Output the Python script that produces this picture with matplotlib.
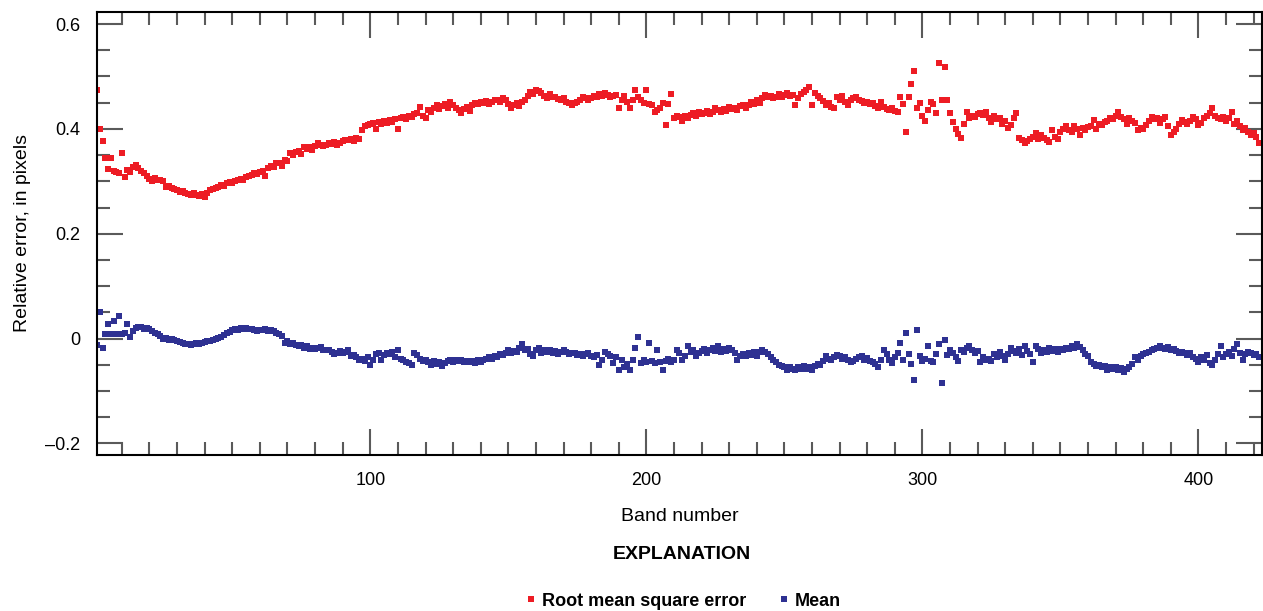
import numpy as np
import matplotlib.pyplot as plt
from matplotlib.ticker import MultipleLocator, FixedLocator
from matplotlib.lines import Line2D

plt.rcParams['font.family'] = ['Liberation Sans', 'DejaVu Sans']

# root mean square error, one value per band (1..422)
rmse = [
    0.474, 0.400, 0.377, 0.345, 0.324, 0.345, 0.320, 0.318, 0.315, 0.354,
    0.309, 0.322, 0.318, 0.328, 0.332, 0.325, 0.320, 0.316, 0.310, 0.305,
    0.300, 0.306, 0.302, 0.303, 0.300, 0.290, 0.292, 0.288, 0.285, 0.283,
    0.280, 0.282, 0.278, 0.276, 0.274, 0.277, 0.274, 0.272, 0.275, 0.270,
    0.278, 0.283, 0.285, 0.288, 0.290, 0.293, 0.292, 0.296, 0.298, 0.297,
    0.300, 0.302, 0.305, 0.303, 0.309, 0.310, 0.312, 0.315, 0.314, 0.318,
    0.320, 0.310, 0.325, 0.330, 0.328, 0.334, 0.335, 0.330, 0.340, 0.338,
    0.354, 0.350, 0.356, 0.358, 0.352, 0.366, 0.362, 0.365, 0.360, 0.368,
    0.373, 0.370, 0.368, 0.370, 0.373, 0.371, 0.375, 0.370, 0.373, 0.376,
    0.378, 0.379, 0.381, 0.377, 0.383, 0.380, 0.398, 0.405, 0.408, 0.410,
    0.411, 0.400, 0.413, 0.410, 0.415, 0.412, 0.417, 0.414, 0.419, 0.400,
    0.420, 0.423, 0.418, 0.425, 0.422, 0.428, 0.430, 0.442, 0.425, 0.420,
    0.436, 0.432, 0.440, 0.446, 0.438, 0.444, 0.448, 0.440, 0.451, 0.445,
    0.440, 0.436, 0.430, 0.438, 0.442, 0.435, 0.446, 0.450, 0.447, 0.452,
    0.449, 0.453, 0.447, 0.451, 0.456, 0.455, 0.452, 0.458, 0.455, 0.448,
    0.440, 0.446, 0.450, 0.444, 0.452, 0.456, 0.462, 0.470, 0.466, 0.474,
    0.472, 0.468, 0.463, 0.459, 0.466, 0.461, 0.461, 0.457, 0.455, 0.459,
    0.452, 0.450, 0.446, 0.449, 0.452, 0.456, 0.461, 0.458, 0.455, 0.459,
    0.463, 0.461, 0.466, 0.463, 0.469, 0.465, 0.460, 0.463, 0.465, 0.440,
    0.455, 0.462, 0.451, 0.440, 0.456, 0.474, 0.460, 0.455, 0.450, 0.474,
    0.448, 0.445, 0.432, 0.436, 0.440, 0.450, 0.408, 0.448, 0.467, 0.420,
    0.425, 0.422, 0.415, 0.424, 0.420, 0.427, 0.430, 0.425, 0.432, 0.428,
    0.430, 0.435, 0.428, 0.433, 0.440, 0.436, 0.432, 0.438, 0.435, 0.441,
    0.437, 0.440, 0.436, 0.443, 0.446, 0.440, 0.445, 0.452, 0.448, 0.455,
    0.450, 0.458, 0.465, 0.460, 0.463, 0.458, 0.461, 0.466, 0.460, 0.464,
    0.469, 0.462, 0.465, 0.446, 0.459, 0.466, 0.470, 0.474, 0.480, 0.446,
    0.468, 0.462, 0.458, 0.453, 0.446, 0.450, 0.442, 0.440, 0.461, 0.455,
    0.463, 0.452, 0.446, 0.455, 0.459, 0.461, 0.456, 0.453, 0.449, 0.451,
    0.447, 0.450, 0.444, 0.440, 0.451, 0.442, 0.438, 0.436, 0.440, 0.435,
    0.432, 0.461, 0.448, 0.394, 0.461, 0.486, 0.510, 0.440, 0.450, 0.425,
    0.415, 0.436, 0.451, 0.448, 0.430, 0.526, 0.455, 0.518, 0.455, 0.430,
    0.413, 0.400, 0.390, 0.383, 0.410, 0.432, 0.420, 0.425, 0.422, 0.428,
    0.430, 0.426, 0.433, 0.420, 0.413, 0.425, 0.418, 0.420, 0.410, 0.415,
    0.402, 0.408, 0.420, 0.430, 0.383, 0.378, 0.373, 0.376, 0.380, 0.385,
    0.392, 0.380, 0.388, 0.383, 0.378, 0.375, 0.398, 0.384, 0.380, 0.395,
    0.400, 0.405, 0.398, 0.394, 0.405, 0.400, 0.389, 0.402, 0.398, 0.403,
    0.405, 0.417, 0.400, 0.410, 0.408, 0.413, 0.415, 0.420, 0.418, 0.425,
    0.432, 0.422, 0.418, 0.410, 0.420, 0.415, 0.412, 0.398, 0.402, 0.400,
    0.408, 0.415, 0.423, 0.418, 0.420, 0.412, 0.418, 0.423, 0.405, 0.389,
    0.395, 0.400, 0.410, 0.417, 0.413, 0.410, 0.415, 0.423, 0.418, 0.408,
    0.412, 0.420, 0.425, 0.430, 0.440, 0.425, 0.420, 0.418, 0.422, 0.415,
    0.420, 0.432, 0.410, 0.415, 0.405, 0.398, 0.402, 0.395, 0.389, 0.392,
    0.385, 0.373,
]

# mean error, one value per band (1..422)
mean = [
    -0.012, 0.051, -0.017, 0.008, 0.027, 0.008, 0.034, 0.008, 0.044, 0.008,
    0.010, 0.027, 0.004, 0.015, 0.020, 0.023, 0.022, 0.018, 0.020, 0.019,
    0.014, 0.010, 0.008, 0.005, 0.000, 0.002, -0.002, 0.000, -0.002, -0.005,
    -0.006, -0.008, -0.010, -0.011, -0.012, -0.011, -0.009, -0.010, -0.008, -0.006,
    -0.004, -0.004, -0.002, -0.001, 0.002, 0.004, 0.007, 0.011, 0.013, 0.016,
    0.019, 0.017, 0.020, 0.018, 0.021, 0.019, 0.018, 0.016, 0.015, 0.017,
    0.016, 0.018, 0.015, 0.017, 0.014, 0.011, 0.008, 0.005, -0.008, -0.005,
    -0.010, -0.008, -0.012, -0.014, -0.013, -0.017, -0.015, -0.019, -0.017, -0.020,
    -0.018, -0.016, -0.021, -0.022, -0.021, -0.025, -0.030, -0.027, -0.024, -0.028,
    -0.025, -0.021, -0.034, -0.032, -0.036, -0.040, -0.038, -0.042, -0.036, -0.050,
    -0.040, -0.030, -0.028, -0.040, -0.032, -0.027, -0.030, -0.025, -0.035, -0.021,
    -0.038, -0.040, -0.044, -0.046, -0.050, -0.027, -0.032, -0.038, -0.042, -0.040,
    -0.044, -0.050, -0.042, -0.048, -0.045, -0.053, -0.046, -0.042, -0.040, -0.044,
    -0.040, -0.043, -0.040, -0.044, -0.042, -0.045, -0.043, -0.046, -0.041, -0.044,
    -0.040, -0.038, -0.036, -0.039, -0.033, -0.035, -0.030, -0.032, -0.027, -0.021,
    -0.028, -0.024, -0.026, -0.018, -0.011, -0.022, -0.020, -0.030, -0.034, -0.022,
    -0.018, -0.027, -0.022, -0.025, -0.021, -0.028, -0.024, -0.030, -0.026, -0.022,
    -0.025, -0.030, -0.028, -0.027, -0.032, -0.029, -0.034, -0.030, -0.027, -0.033,
    -0.036, -0.031, -0.050, -0.040, -0.025, -0.030, -0.034, -0.046, -0.036, -0.059,
    -0.040, -0.055, -0.048, -0.059, -0.040, -0.017, 0.004, -0.046, -0.040, -0.044,
    -0.008, -0.042, -0.046, -0.021, -0.044, -0.059, -0.042, -0.038, -0.044, -0.040,
    -0.021, -0.028, -0.040, -0.034, -0.015, -0.025, -0.022, -0.034, -0.028, -0.024,
    -0.020, -0.027, -0.022, -0.018, -0.024, -0.015, -0.026, -0.020, -0.024, -0.018,
    -0.022, -0.028, -0.040, -0.033, -0.030, -0.034, -0.028, -0.032, -0.026, -0.034,
    -0.025, -0.021, -0.026, -0.030, -0.036, -0.040, -0.044, -0.050, -0.052, -0.055,
    -0.059, -0.055, -0.058, -0.060, -0.055, -0.058, -0.053, -0.057, -0.054, -0.059,
    -0.052, -0.048, -0.050, -0.042, -0.034, -0.038, -0.040, -0.036, -0.032, -0.034,
    -0.038, -0.035, -0.040, -0.044, -0.042, -0.038, -0.036, -0.034, -0.040, -0.037,
    -0.042, -0.044, -0.048, -0.055, -0.040, -0.021, -0.030, -0.040, -0.046, -0.036,
    -0.028, -0.008, -0.040, 0.011, -0.030, -0.048, -0.078, 0.017, -0.034, -0.042,
    -0.038, -0.015, -0.042, -0.045, -0.030, -0.010, -0.084, -0.002, -0.032, -0.022,
    -0.027, -0.036, -0.042, -0.021, -0.025, -0.018, -0.015, -0.022, -0.028, -0.024,
    -0.044, -0.035, -0.040, -0.038, -0.042, -0.030, -0.036, -0.025, -0.034, -0.040,
    -0.030, -0.017, -0.024, -0.028, -0.020, -0.032, -0.015, -0.024, -0.030, -0.044,
    -0.015, -0.020, -0.027, -0.022, -0.025, -0.018, -0.024, -0.020, -0.026, -0.019,
    -0.022, -0.017, -0.020, -0.015, -0.018, -0.011, -0.016, -0.022, -0.030, -0.034,
    -0.044, -0.048, -0.053, -0.050, -0.055, -0.052, -0.059, -0.054, -0.057, -0.055,
    -0.060, -0.056, -0.063, -0.058, -0.055, -0.048, -0.036, -0.040, -0.034, -0.030,
    -0.028, -0.025, -0.022, -0.020, -0.018, -0.015, -0.017, -0.019, -0.016, -0.022,
    -0.020, -0.024, -0.027, -0.025, -0.028, -0.032, -0.027, -0.035, -0.038, -0.044,
    -0.036, -0.040, -0.032, -0.046, -0.050, -0.040, -0.030, -0.015, -0.036, -0.030,
    -0.025, -0.034, -0.020, -0.011, -0.028, -0.040, -0.030, -0.026, -0.027, -0.032,
    -0.030, -0.036,
]

bands = np.arange(1, len(rmse) + 1)

red = '#ed1c24'
blue = '#2e3192'
tick_grey = '#5a5a5a'
msize = 3.8

fig = plt.figure(figsize=(12.63, 6.11), dpi=100)
ax = fig.add_axes([0.0768, 0.2553, 0.9224, 0.7251])

ax.plot(bands, rmse, 's', color=red, markersize=msize, markeredgewidth=0)
ax.plot(bands, mean, 's', color=blue, markersize=msize, markeredgewidth=0)

ax.set_xlim(1, 423)
ax.set_ylim(-0.222, 0.623)

ax.xaxis.set_major_locator(FixedLocator([100, 200, 300, 400]))
ax.xaxis.set_minor_locator(MultipleLocator(10))
ax.yaxis.set_major_locator(FixedLocator([-0.2, 0, 0.2, 0.4, 0.6]))
ax.yaxis.set_minor_locator(MultipleLocator(0.05))
ax.set_yticklabels(['\u20130.2', '0', '0.2', '0.4', '0.6'])

ax.tick_params(which='both', direction='in', top=True, right=True,
               color=tick_grey, width=1.5, labelsize=13, pad=12)
ax.tick_params(which='major', length=19)
ax.tick_params(which='minor', length=9.5)

for s in ax.spines.values():
    s.set_linewidth(1.5)
    s.set_color('black')

ax.set_xlabel('Band number', fontsize=14, labelpad=14)
ax.set_ylabel('Relative error, in pixels', fontsize=14, labelpad=10)

fig.text(0.54, 0.093, 'EXPLANATION', ha='center', va='center',
         fontsize=14, fontweight='bold')

handles = [
    Line2D([], [], ls='none', marker='s', color=red, markersize=msize, markeredgewidth=0),
    Line2D([], [], ls='none', marker='s', color=blue, markersize=msize, markeredgewidth=0),
]
fig.legend(handles, ['Root mean square error', 'Mean'], loc='center',
           bbox_to_anchor=(0.541, 0.016), ncol=2, frameon=False,
           prop={'weight': 'bold', 'size': 13}, handlelength=0.6,
           handletextpad=0.3, columnspacing=1.8)

fig.savefig('out.png', dpi=100)
